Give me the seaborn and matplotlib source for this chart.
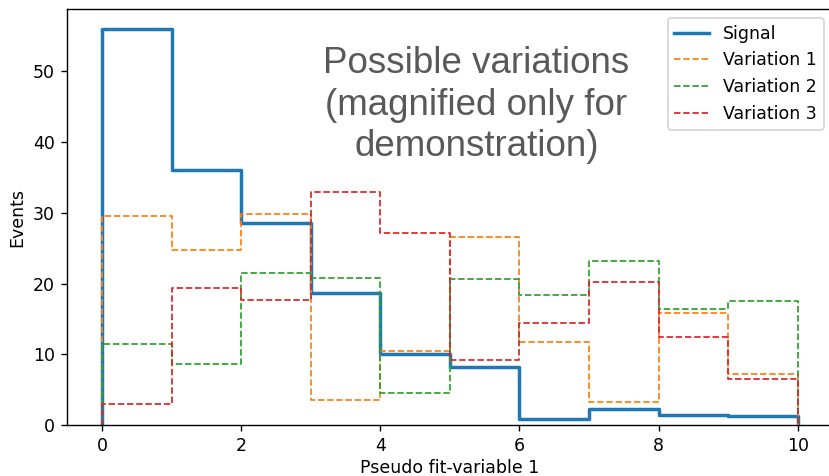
import numpy as np
import pandas as pd
import matplotlib
matplotlib.use("Agg")
import matplotlib.pyplot as plt
import seaborn as sns

# Bin edges of the fit variable and the event counts per bin
bin_edges = [0, 1, 2, 3, 4, 5, 6, 7, 8, 9, 10]
signal = [56.0, 36.0, 28.5, 18.6, 10.0, 8.2, 0.9, 2.2, 1.4, 1.3]
variation_1 = [29.5, 24.7, 29.8, 3.5, 10.5, 26.6, 11.7, 3.3, 15.9, 7.2]
variation_2 = [11.5, 8.6, 21.5, 20.8, 4.5, 20.6, 18.4, 23.2, 16.4, 17.5]
variation_3 = [3.0, 19.4, 17.6, 33.0, 27.2, 9.2, 14.4, 20.2, 12.4, 6.5]

series_names = ["Signal", "Variation 1", "Variation 2", "Variation 3"]
series_values = [signal, variation_1, variation_2, variation_3]

plt.rcParams["font.family"] = ["DejaVu Sans"]
plt.rcParams["font.size"] = 10

fig = plt.figure(figsize=(829 / 125, 476 / 125), dpi=125)
ax = fig.add_axes([0.0812, 0.1071, 0.923, 0.874])

palette = sns.color_palette("tab10", 4)


def step_outline(edges, heights):
    """Closed histogram outline: rises from zero at the first edge, falls to zero at the last."""
    edges = np.asarray(edges, dtype=float)
    heights = np.asarray(heights, dtype=float)
    x = np.concatenate([[edges[0]], edges])
    y = np.concatenate([[0.0], heights, [0.0]])
    return pd.DataFrame({"x": x, "y": y})


for i, (name, vals) in enumerate(zip(series_names, series_values)):
    df = step_outline(bin_edges, vals)
    if i == 0:
        sns.lineplot(data=df, x="x", y="y", estimator=None, sort=False,
                     drawstyle="steps-post", color=palette[i], linewidth=2,
                     label=name, ax=ax)
    else:
        sns.lineplot(data=df, x="x", y="y", estimator=None, sort=False,
                     drawstyle="steps-post", color=palette[i], linewidth=1,
                     linestyle="--", label=name, ax=ax)

ax.set_xlim(-0.5, 10.5)
ax.set_ylim(0, 58.8)
ax.set_xticks([0, 2, 4, 6, 8, 10])
ax.set_yticks([0, 10, 20, 30, 40, 50])
ax.set_xlabel("Pseudo fit-variable 1", labelpad=2)
ax.set_ylabel("Events")

ax.legend(loc="upper right")

ax.text(5.38, 53.5, "Possible variations\n(magnified only for\ndemonstration)",
        ha="center", va="top", fontsize=21.2, color="#595959",
        family=["Liberation Sans", "DejaVu Sans"], linespacing=1.24)

fig.savefig("out.png", dpi=125)
